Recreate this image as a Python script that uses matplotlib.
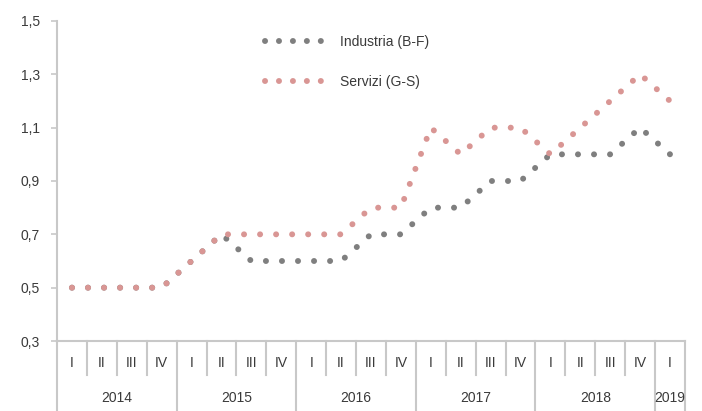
import numpy as np
import matplotlib
matplotlib.use('Agg')
from matplotlib import pyplot as plt
from matplotlib.lines import Line2D
from matplotlib.ticker import FuncFormatter

plt.rcParams['font.family'] = ['Liberation Sans', 'DejaVu Sans']

years = ['2014', '2015', '2016', '2017', '2018', '2019']
quarters = ['I', 'II', 'III', 'IV'] * 5 + ['I']
industria = [0.5, 0.5, 0.5, 0.5, 0.6, 0.7, 0.6, 0.6, 0.6, 0.6, 0.7, 0.7,
             0.8, 0.8, 0.9, 0.9, 1.0, 1.0, 1.0, 1.1, 1.0]
servizi = [0.5, 0.5, 0.5, 0.5, 0.6, 0.7, 0.7, 0.7, 0.7, 0.7, 0.8, 0.8,
           1.1, 1.0, 1.1, 1.1, 1.0, 1.1, 1.2, 1.3, 1.2]
labels = ['Industria (B-F)', 'Servizi (G-S)']

grey = '#7f7f7f'
pink = '#d99694'
axis_col = '#c8c8c8'
txt = '#3a3a3a'

fig = plt.figure(figsize=(7.02, 4.11), dpi=100)
ax = fig.add_axes([57/702, 1-341/411, (685-57)/702, 320/411])

x = np.arange(len(quarters))
lw = 4.3
dots = (0, (0.01, 11.5/lw))
ax.plot(x, industria, color=grey, lw=lw, linestyle=dots, dash_capstyle='round')
ax.plot(x, servizi, color=pink, lw=lw, linestyle=dots, dash_capstyle='round')

ax.set_xlim(-0.5, len(quarters)-0.5)
ax.set_ylim(0.3, 1.5)
ax.set_yticks(np.arange(0.3, 1.51, 0.2))
ax.yaxis.set_major_formatter(FuncFormatter(lambda v, p: ('%.1f' % v).replace('.', ',')))
ax.tick_params(axis='y', length=4.3, width=1.2, color=axis_col, pad=8, labelsize=10, labelcolor=txt)
ax.set_xticks([])
for s in ['top', 'right']:
    ax.spines[s].set_visible(False)
ax.spines['left'].set_color(axis_col)
ax.spines['left'].set_linewidth(1.5)
ax.spines['bottom'].set_color(axis_col)
ax.spines['bottom'].set_linewidth(1.5)

# category axis (quarters / years)
tr = ax.get_xaxis_transform()
ax.plot([-0.5, -0.5], [0, -0.22], transform=tr, color=axis_col, lw=1.5, clip_on=False)
for k in range(1, len(quarters)+1):
    xb = k - 0.5
    bottom = -0.22 if (k % 4 == 0 or k == len(quarters)) else -0.106
    ax.plot([xb, xb], [0, bottom], transform=tr, color=axis_col, lw=1.5, clip_on=False)
for i, q in enumerate(quarters):
    ax.text(i, -0.069, q, transform=tr, ha='center', va='center', fontsize=10, color=txt)
for j, y in enumerate(years):
    first = j*4
    last = min(j*4+3, len(quarters)-1)
    ax.text((first+last)/2, -0.178, y, transform=tr, ha='center', va='center', fontsize=10, color=txt)

handles = [Line2D([], [], color=c, lw=lw, linestyle=(0, (0.01, 10/lw)), dash_capstyle='round')
           for c in [grey, pink]]
leg = ax.legend(handles, labels, loc='upper left', bbox_to_anchor=(0.311, 0.996), frameon=False,
                handlelength=4.2, handletextpad=1.2, labelspacing=1.9, fontsize=10)
for t in leg.get_texts():
    t.set_color(txt)

plt.savefig('out.png', dpi=100)
